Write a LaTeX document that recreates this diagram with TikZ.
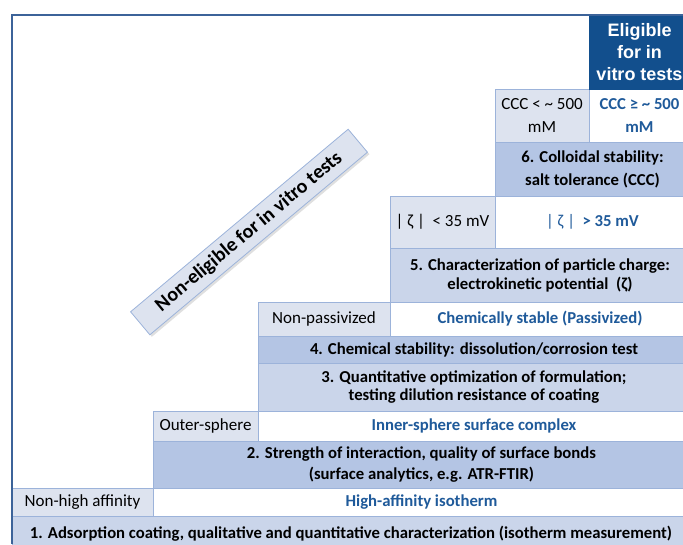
\documentclass[tikz,border=0pt]{standalone}
\usepackage{fontspec}
\setmainfont{Carlito}
\newfontfamily\arialf{Liberation Sans}
\usetikzlibrary{shadows}
\definecolor{frameblue}{HTML}{3C6399}
\definecolor{bord}{HTML}{9CB3DA}
\definecolor{darkfill}{HTML}{124F8D}
\definecolor{midfill}{HTML}{B4C5E4}
\definecolor{lightmid}{HTML}{CAD5EA}
\definecolor{lightfill}{HTML}{DDE3EF}
\definecolor{bluetext}{HTML}{1F5A9A}
\tikzset{
  cell/.style={anchor=north west, inner sep=0pt, outer sep=0pt, draw=bord, line width=0.8pt,
    align=center, font=\fontsize{17}{20}\selectfont},
  smallcell/.style={fill=lightfill},
  okcell/.style={fill=white, text=bluetext, font=\fontsize{16.7}{20}\selectfont\bfseries},
  headA/.style={fill=midfill, font=\fontsize{16.7}{21}\selectfont\bfseries},
  headB/.style={fill=lightmid, font=\fontsize{16.7}{19}\selectfont\bfseries},
  eligcell/.style={fill=darkfill, draw=darkfill, text=white, font=\arialf\fontsize{18}{22}\selectfont\bfseries},
  banner/.style={fill=lightfill, draw=bord, line width=0.8pt, minimum width=284pt, minimum height=30pt,
    inner sep=0pt, font=\fontsize{20}{22}\selectfont\bfseries, drop shadow={shadow xshift=2pt, shadow yshift=-2pt, fill=black!25}},
  frameline/.style={draw=frameblue, line width=2pt}
}
\newcommand\mkcell[7]{\node[cell,#2,minimum width={(#5-#3)*1pt},minimum height={(#6-#4)*1pt}] (#1) at (#3,#4) {#7};}
\begin{document}
\begin{tikzpicture}[x=1pt,y=-1pt]
\useasboundingbox (0,0) rectangle (683,544);
% bottom row and steps
\mkcell{r1}{headB}{12}{516}{690}{552}{1. Adsorption coating, qualitative and quantitative characterization (isotherm measurement)}
\mkcell{nh}{smallcell}{12}{488}{153}{516}{Non-high affinity}
\mkcell{ha}{okcell}{153}{488}{690}{516}{High-affinity isotherm}
\mkcell{r2}{headA}{153}{441}{690}{488}{2. Strength of interaction, quality of surface bonds\\(surface analytics, e.g. ATR-FTIR)}
\mkcell{os}{smallcell}{153}{411}{258}{441}{Outer-sphere}
\mkcell{is}{okcell}{258}{411}{690}{441}{Inner-sphere surface complex}
\mkcell{r3}{headB,font=\fontsize{16.7}{18}\selectfont\bfseries}{258}{363}{690}{411}{3. Quantitative optimization of formulation;\\testing dilution resistance of coating}
\mkcell{r4}{headA}{258}{336}{690}{363}{4. Chemical stability: dissolution/corrosion test}
\mkcell{np}{smallcell}{258}{302}{390}{336}{Non-passivized}
\mkcell{cs}{okcell}{390}{302}{690}{336}{Chemically stable (Passivized)}
\mkcell{r5}{headB}{390}{248}{690}{302}{5. Characterization of particle charge:\\electrokinetic potential~ (ζ)}
\mkcell{zl}{smallcell}{390}{196}{495}{248}{| ζ |~ < 35 mV}
\mkcell{zg}{okcell}{495}{196}{690}{248}{{\mdseries | ζ |}~ > 35 mV}
\mkcell{r6}{headA,font=\fontsize{16.7}{23}\selectfont\bfseries}{495}{142}{690}{196}{6. Colloidal stability:\\salt tolerance (CCC)}
\mkcell{cl}{smallcell,font=\fontsize{17}{23}\selectfont}{495}{89}{589}{142}{CCC < \textasciitilde\ 500\\mM}
\mkcell{cg}{okcell,font=\fontsize{16.7}{23}\selectfont\bfseries}{589}{89}{690}{142}{CCC ≥ \textasciitilde\ 500\\mM}
\mkcell{el}{eligcell}{589}{15}{690}{89}{Eligible\\for in\\vitro tests}
% frame
\coordinate (fbl) at (12,544);
\coordinate (ftl) at (12,15);
\coordinate (ftr) at (683,15);
\draw[frameline] (fbl) -- (ftl) -- (ftr);
% banner
\node[banner, rotate=40] (ban) at (249,232) {Non-eligible for in vitro tests};
\end{tikzpicture}
\end{document}
